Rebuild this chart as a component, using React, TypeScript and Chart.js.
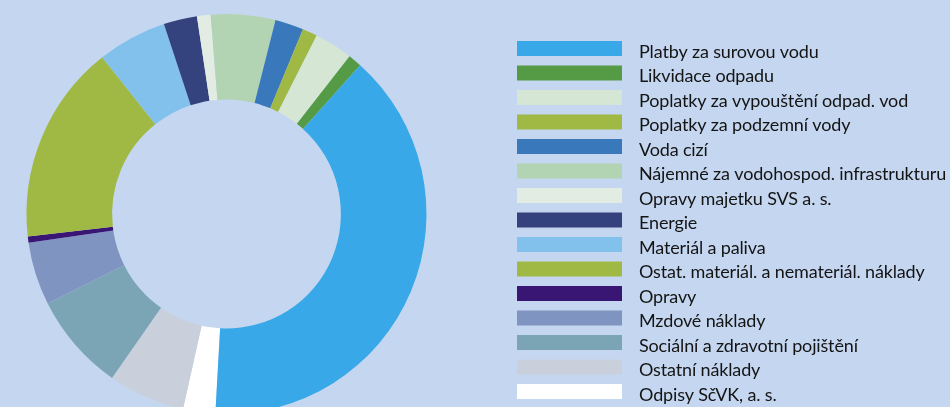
import React, { useEffect, useRef } from "react";
import { Chart, registerables } from "chart.js";

Chart.register(...registerables);

// Legend order (top to bottom)
const categories: string[] = [
  "Platby za surovou vodu",
  "Likvidace odpadu",
  "Poplatky za vypouštění odpad. vod",
  "Poplatky za podzemní vody",
  "Voda cizí",
  "Nájemné za vodohospod. infrastrukturu",
  "Opravy majetku SVS a. s.",
  "Energie",
  "Materiál a paliva",
  "Ostat. materiál. a nemateriál. náklady",
  "Opravy",
  "Mzdové náklady",
  "Sociální a zdravotní pojištění",
  "Ostatní náklady",
  "Odpisy SčVK, a. s.",
];

// Share of total costs, %
const shares: number[] = [39.2, 1.1, 3.1, 1.2, 2.3, 5.2, 1.1, 2.7, 5.6, 16.1, 0.5, 5.1, 7.9, 6.2, 2.6];

const colors: string[] = [
  "#38a8e8",
  "#559b45",
  "#d6e6d5",
  "#a0b945",
  "#3a78bc",
  "#b2d4b3",
  "#e3ece3",
  "#34437d",
  "#82c1ec",
  "#a0b945",
  "#3a1674",
  "#8094c2",
  "#7ba5b5",
  "#c9d0dc",
  "#ffffff",
];

const BG = "#c5d7f0";

const legendPlugin = {
  id: "customLegend",
  afterDraw(chart: any) {
    const ctx = chart.ctx;
    ctx.save();
    ctx.font = "18px Lato";
    try {
      (ctx as any).letterSpacing = "-0.15px";
    } catch (e) {}
    ctx.textBaseline = "alphabetic";
    ctx.textAlign = "left";
    categories.forEach((label, i) => {
      const top = 41 + 24.5 * i;
      ctx.fillStyle = colors[i];
      ctx.fillRect(517, top, 105, 15);
      ctx.fillStyle = "#141414";
      ctx.fillText(label, 639, top + 16.5);
    });
    ctx.restore();
  },
};

export default function App() {
  const ref = useRef<HTMLCanvasElement | null>(null);

  useEffect(() => {
    if (!ref.current) return;
    const labels = [...categories].reverse();
    const data = [...shares].reverse();
    const bg = [...colors].reverse();
    const chart = new Chart(ref.current, {
      type: "doughnut",
      data: {
        labels,
        datasets: [
          {
            data,
            backgroundColor: bg,
            borderWidth: 0,
          },
        ],
      },
      options: {
        responsive: false,
        animation: false,
        rotation: 183.2,
        cutout: "57.2%",
        layout: { padding: { left: 26.5, top: 14, right: 523.5, bottom: 16 } },
        plugins: {
          legend: { display: false },
          tooltip: { enabled: false },
        },
      },
      plugins: [legendPlugin],
    });
    return () => chart.destroy();
  }, []);

  return (
    <div
      style={{
        position: "fixed",
        left: 0,
        top: 0,
        width: 950,
        height: 407,
        overflow: "hidden",
        background: BG,
      }}
    >
      <canvas ref={ref} width={950} height={430} style={{ display: "block" }} />
    </div>
  );
}
